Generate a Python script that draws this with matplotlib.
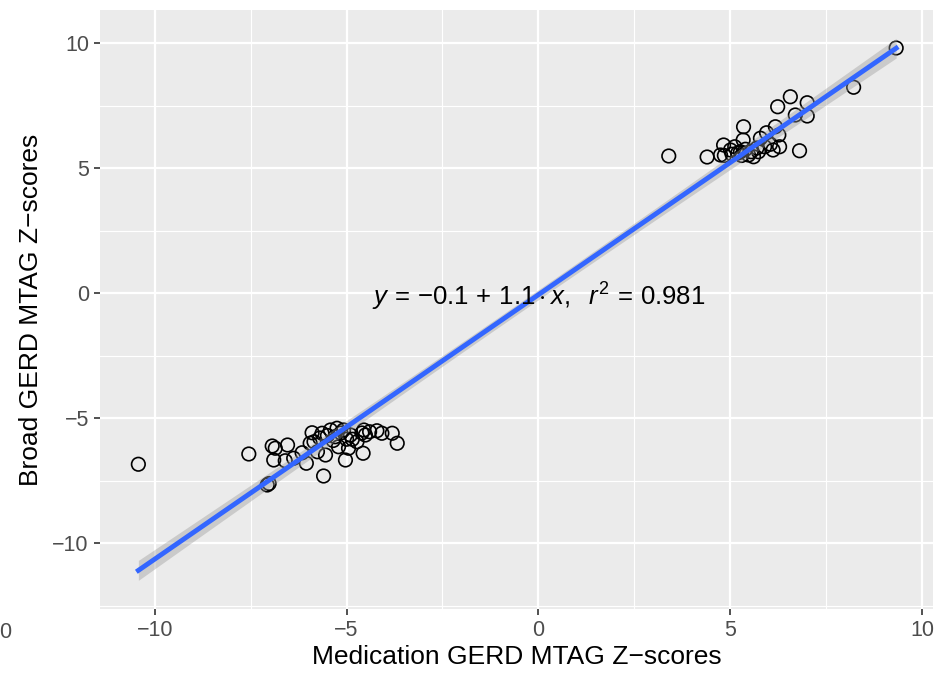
import numpy as np
import matplotlib
matplotlib.use("Agg")
import matplotlib.pyplot as plt
from matplotlib.ticker import MultipleLocator

plt.rcParams['font.family'] = ['Liberation Sans', 'DejaVu Sans']
plt.rcParams['mathtext.fontset'] = 'custom'
plt.rcParams['mathtext.rm'] = 'Liberation Sans'
plt.rcParams['mathtext.it'] = 'Liberation Sans:italic'

# Medication GERD MTAG Z-scores (x) and Broad GERD MTAG Z-scores (y)
x_low = [-10.43, -7.55, -7.07, -7.02, -6.94, -6.86, -6.54, -6.90, -6.60, -6.38,
         -6.16, -6.05, -5.90, -5.95, -5.76, -5.60, -5.55, -5.64, -5.42, -5.25,
         -5.08, -5.03, -5.21, -4.95, -4.90, -4.73, -4.57, -4.55, -4.51, -4.21,
         -4.08, -3.81, -3.68, -5.85, -5.70, -5.50, -5.35, -5.15, -4.85, -4.60,
         -4.40, -5.30, -5.00]
y_low = [-6.85, -6.44, -7.68, -7.62, -6.12, -6.21, -6.08, -6.68, -6.71, -6.61,
         -6.39, -6.81, -5.59, -6.01, -6.35, -7.32, -6.48, -5.61, -5.48, -5.41,
         -5.48, -6.68, -6.15, -6.21, -5.68, -5.95, -6.41, -5.48, -5.68, -5.51,
         -5.61, -5.61, -6.01, -5.95, -5.80, -5.70, -5.90, -5.60, -5.85, -5.60,
         -5.55, -5.75, -5.85]
x_high = [3.40, 4.40, 4.75, 4.83, 5.01, 5.12, 5.35, 5.34, 5.27, 5.48,
          5.61, 5.74, 5.79, 5.95, 6.18, 6.27, 6.12, 6.29, 6.24, 6.57,
          7.01, 6.70, 7.01, 6.81, 8.22, 9.33, 5.05, 5.20, 5.40, 5.55,
          5.70, 4.85, 5.30, 6.05, 5.90]
y_high = [5.48, 5.44, 5.52, 5.92, 5.72, 5.85, 6.65, 6.12, 5.65, 5.52,
          5.45, 5.65, 6.19, 6.41, 6.65, 6.32, 5.72, 5.85, 7.45, 7.85,
          7.61, 7.12, 7.08, 5.69, 8.23, 9.80, 5.55, 5.60, 5.75, 5.65,
          5.80, 5.50, 5.50, 5.95, 5.85]

x = np.array(x_low + x_high)
y = np.array(y_low + y_high)

eq_label = r'$y\,=\,{-0.1}\,+\,1.1\cdot x,\ \ r^2\,=\,0.981$'
x_title = 'Medication GERD MTAG Z\u2212scores'
y_title = 'Broad GERD MTAG Z\u2212scores'

# linear fit with 95% confidence band
slope, intercept = np.polyfit(x, y, 1)
n = len(x)
resid = y - (intercept + slope * x)
s = np.sqrt(np.sum(resid ** 2) / (n - 2))
xg = np.linspace(x.min(), x.max(), 80)
yg = intercept + slope * xg
se = s * np.sqrt(1.0 / n + (xg - x.mean()) ** 2 / np.sum((x - x.mean()) ** 2))
tq = 1.99

fig = plt.figure(figsize=(9.46, 6.75), dpi=100)
ax = fig.add_axes([100 / 946, 66 / 675, 833 / 946, 599 / 675])
ax.set_facecolor('#EBEBEB')
for sp in ax.spines.values():
    sp.set_visible(False)

ax.set_xlim(-11.43, 10.29)
ax.set_ylim(-12.64, 11.32)
ax.xaxis.set_major_locator(MultipleLocator(5))
ax.xaxis.set_minor_locator(MultipleLocator(2.5))
ax.yaxis.set_major_locator(MultipleLocator(5))
ax.yaxis.set_minor_locator(MultipleLocator(2.5))
ax.grid(which='major', color='white', lw=1.6)
ax.grid(which='minor', color='white', lw=0.8)
ax.set_axisbelow(True)
ax.tick_params(which='major', length=4, width=1.2, color='#333333',
               labelsize=15.5, labelcolor='#4D4D4D', pad=4)
ax.tick_params(which='minor', length=0)
fmt = matplotlib.ticker.FuncFormatter(lambda v, p: f'{v:.0f}'.replace('-', '\u2212'))
ax.xaxis.set_major_formatter(fmt)
ax.yaxis.set_major_formatter(fmt)

ax.scatter(x, y, s=95, facecolors='none', edgecolors='black', linewidths=1.2, zorder=3)
ax.fill_between(xg, yg - tq * se, yg + tq * se, color='#999999', alpha=0.4, lw=0, zorder=4)
ax.plot(xg, yg, color='#3366FF', lw=3.5, zorder=5)

ax.text(0, -0.15, eq_label, ha='center', va='center', fontsize=18.5, color='black', zorder=6)

ax.set_xlabel(x_title, fontsize=19, color='black', labelpad=3)
ax.set_ylabel(y_title, fontsize=19, color='black', labelpad=7)

fig.text(11 / 946, 1 - 632 / 675, '0', ha='right', va='center', fontsize=15.5, color='#4D4D4D')

fig.savefig('out.png', dpi=100)
